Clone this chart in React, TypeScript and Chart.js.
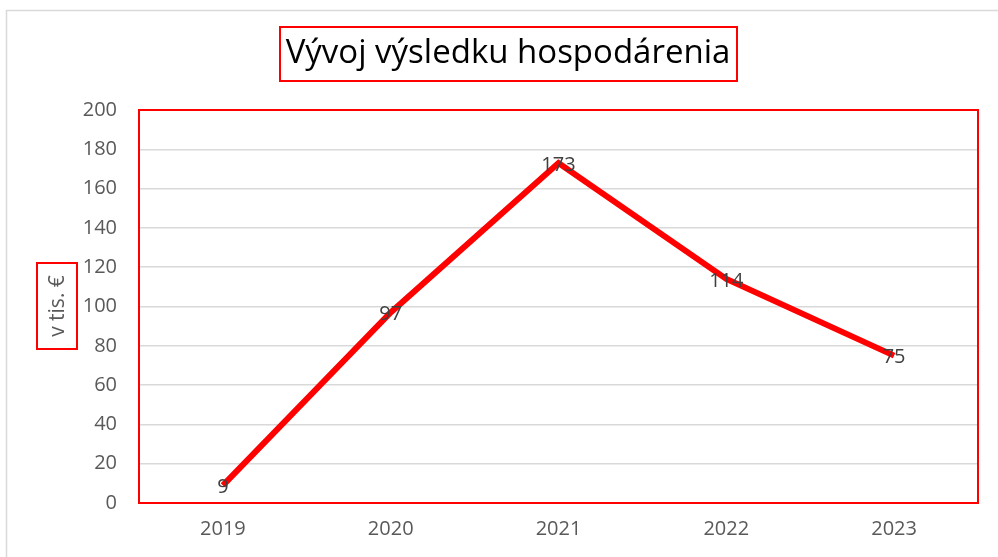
import React, { useEffect, useRef } from "react";
import { Chart, registerables } from "chart.js";

Chart.register(...registerables);

const categories = ["2019", "2020", "2021", "2022", "2023"];
const values = [9, 97, 173, 114, 75];
const titleText = "Vývoj výsledku hospodárenia";
const yTitleText = "v tis. €";
const yMin = 0;
const yMax = 200;
const yStep = 20;

const FONT = "'Open Sans', 'Noto Sans', sans-serif";

const decorPlugin = {
  id: "decor",
  beforeDraw(chart: any) {
    const ctx = chart.ctx;
    ctx.save();
    ctx.fillStyle = "#ffffff";
    ctx.fillRect(0, 0, chart.width, chart.height);
    ctx.strokeStyle = "#d9d9d9";
    ctx.lineWidth = 1.5;
    ctx.strokeRect(6.5, 10.5, chart.width + 20, chart.height + 20);
    ctx.restore();
  },
  afterDatasetsDraw(chart: any) {
    const ctx = chart.ctx;
    const area = chart.chartArea;
    ctx.save();
    ctx.strokeStyle = "#ff0000";
    ctx.lineWidth = 2;
    ctx.strokeRect(area.left, area.top, area.right - area.left, area.bottom - area.top);

    const meta = chart.getDatasetMeta(0);
    ctx.fillStyle = "#404040";
    ctx.font = `20px ${FONT}`;
    ctx.textAlign = "center";
    ctx.textBaseline = "middle";
    meta.data.forEach((pt: any, i: number) => {
      ctx.fillText(String(values[i]), pt.x, pt.y + 2);
    });

    ctx.font = `33px ${FONT}`;
    ctx.fillStyle = "#000000";
    ctx.textAlign = "center";
    ctx.textBaseline = "middle";
    ctx.fillText(titleText, 508, 54);
    ctx.strokeStyle = "#ff0000";
    ctx.lineWidth = 2;
    ctx.strokeRect(280, 27, 457, 54);

    ctx.save();
    ctx.translate(57, 306);
    ctx.rotate(-Math.PI / 2);
    ctx.font = `21px ${FONT}`;
    ctx.fillStyle = "#595959";
    ctx.fillText(yTitleText, 0, 1);
    ctx.restore();
    ctx.strokeRect(37, 263, 40, 86);
    ctx.restore();
  },
};

export default function App() {
  const ref = useRef<HTMLCanvasElement | null>(null);
  useEffect(() => {
    document.body.style.margin = "0";
    const canvas = ref.current!;
    const chart = new Chart(canvas, {
      type: "line",
      data: {
        labels: categories,
        datasets: [
          {
            data: values,
            borderColor: "#ff0000",
            borderWidth: 6,
            pointRadius: 0,
            pointHoverRadius: 0,
            tension: 0,
            fill: false,
          },
        ],
      },
      options: {
        animation: false,
        responsive: false,
        events: [],
        layout: { padding: { top: 110, right: 20, bottom: 0, left: 0 } },
        plugins: {
          legend: { display: false },
          title: { display: false },
          tooltip: { enabled: false },
        },
        scales: {
          x: {
            offset: true,
            grid: { display: false, drawTicks: false },
            border: { display: false },
            ticks: {
              color: "#595959",
              font: { family: FONT, size: 20 },
              padding: 14,
            },
            afterFit(scale: any) {
              scale.height = 54;
            },
          },
          y: {
            min: yMin,
            max: yMax,
            grid: { color: "#d9d9d9", lineWidth: 1.5, drawTicks: false },
            border: { display: false },
            ticks: {
              stepSize: yStep,
              color: "#595959",
              font: { family: FONT, size: 20 },
              padding: 22,
            },
            afterFit(scale: any) {
              scale.width = 139;
            },
          },
        },
      },
      plugins: [decorPlugin],
    });
    return () => chart.destroy();
  }, []);
  return (
    <div style={{ width: 998, height: 557, position: "relative" }}>
      <canvas ref={ref} width={998} height={557} style={{ display: "block" }} />
    </div>
  );
}
